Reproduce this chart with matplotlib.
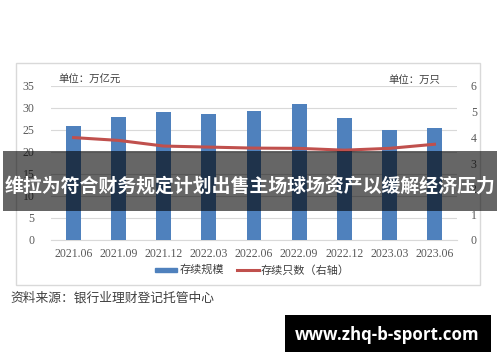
import matplotlib
matplotlib.use("Agg")
import matplotlib.pyplot as plt
from matplotlib.patches import Rectangle
from matplotlib.lines import Line2D
import numpy as np

categories = ["2021.06", "2021.09", "2021.12", "2022.03", "2022.06",
              "2022.09", "2022.12", "2023.03", "2023.06"]
scale_values = [25.9, 28.0, 29.2, 28.6, 29.3, 30.8, 27.8, 25.1, 25.5]
count_values = [3.99, 3.88, 3.66, 3.62, 3.58, 3.57, 3.50, 3.57, 3.73]
left_ticks = [0, 5, 10, 15, 20, 25, 30, 35]
right_ticks = [0, 1, 2, 3, 4, 5, 6]

W, H = 500, 362
CJK = ["Noto Sans CJK SC", "DejaVu Sans"]
NUM = ["Liberation Serif", "DejaVu Serif"]

fig = plt.figure(figsize=(W / 100, H / 100), dpi=100)
fig.patch.set_facecolor("white")

def fx(px):
    return px / W

def fy(py):
    return 1 - py / H

# outer chart frame
fig.patches.append(Rectangle((fx(16), fy(285)), fx(480) - fx(16), fy(63) - fy(285),
                             transform=fig.transFigure, fill=False,
                             edgecolor="#d9d9d9", linewidth=1.0, zorder=0))

ax = fig.add_axes([fx(51), fy(240), fx(457) - fx(51), fy(86) - fy(240)])
x = np.arange(len(categories))
ax.bar(x, scale_values, width=0.33, color="#4F81BD", zorder=3)
ax.set_xlim(-0.5, len(categories) - 0.5)
ax.set_ylim(0, 35)
ax.set_yticks(left_ticks)
ax.set_yticklabels([str(v) for v in left_ticks], fontfamily=NUM, fontsize=8.5, color="#595959")
ax.set_xticks(x)
ax.set_xticklabels(categories, fontfamily=NUM, fontsize=8.5, color="#595959")
ax.tick_params(axis="both", length=0)
ax.tick_params(axis="y", pad=12)
ax.tick_params(axis="x", pad=6)
ax.grid(axis="y", color="#d9d9d9", linewidth=0.8, zorder=0)
for s in ["top", "right", "left"]:
    ax.spines[s].set_visible(False)
ax.spines["bottom"].set_color("#d9d9d9")

ax2 = ax.twinx()
ax2.plot(x, count_values, color="#C0504D", linewidth=2.2, zorder=4)
ax2.set_ylim(0, 6)
ax2.set_yticks(right_ticks)
ax2.set_yticklabels([str(v) for v in right_ticks], fontfamily=NUM, fontsize=8.5, color="#595959")
ax2.tick_params(axis="y", length=0, pad=10)
for s in ["top", "right", "left", "bottom"]:
    ax2.spines[s].set_visible(False)

# unit labels
fig.text(fx(58), fy(80), "单位：万亿元", fontfamily=CJK, fontsize=7.5, color="#404040", va="center")
fig.text(fx(388), fy(80), "单位：万只", fontfamily=CJK, fontsize=7.5, color="#404040", va="center")

# legend
fig.patches.append(Rectangle((fx(155), fy(271.5)), fx(177) - fx(155), fy(268) - fy(271.5),
                             transform=fig.transFigure, color="#4F81BD"))
fig.text(fx(180), fy(270), "存续规模", fontfamily=CJK, fontsize=8, color="#404040", va="center")
fig.lines.append(Line2D([fx(237), fx(259)], [fy(270), fy(270)], transform=fig.transFigure,
                        color="#C0504D", linewidth=2.2))
fig.text(fx(261), fy(270), "存续只数（右轴）", fontfamily=CJK, fontsize=8, color="#404040", va="center")

# source
fig.text(fx(10), fy(298), "资料来源：银行业理财登记托管中心", fontfamily=CJK, fontsize=9.2, color="#404040", va="center")

# overlay banner
fig.patches.append(Rectangle((fx(3), fy(211)), fx(497) - fx(3), fy(151) - fy(211),
                             transform=fig.transFigure, facecolor="black", edgecolor="none",
                             linewidth=0, alpha=0.6, zorder=10))
fig.text(0.5, fy(186), "维拉为符合财务规定计划出售主场球场资产以缓解经济压力",
         fontfamily=CJK, fontsize=13.6, fontweight="bold", color="white",
         ha="center", va="center", zorder=11)

# watermark
fig.patches.append(Rectangle((fx(285), fy(352)), fx(491) - fx(285), fy(315) - fy(352),
                             transform=fig.transFigure, facecolor="black", edgecolor="none",
                             linewidth=0, zorder=10))
fig.text(fx(387), fy(335), "www.zhq-b-sport.com", fontfamily=["Open Sans", "DejaVu Sans"],
         fontsize=12.2, fontweight="bold", color="white", ha="center", va="center", zorder=11)

fig.savefig("out.png", dpi=100, facecolor="white")
